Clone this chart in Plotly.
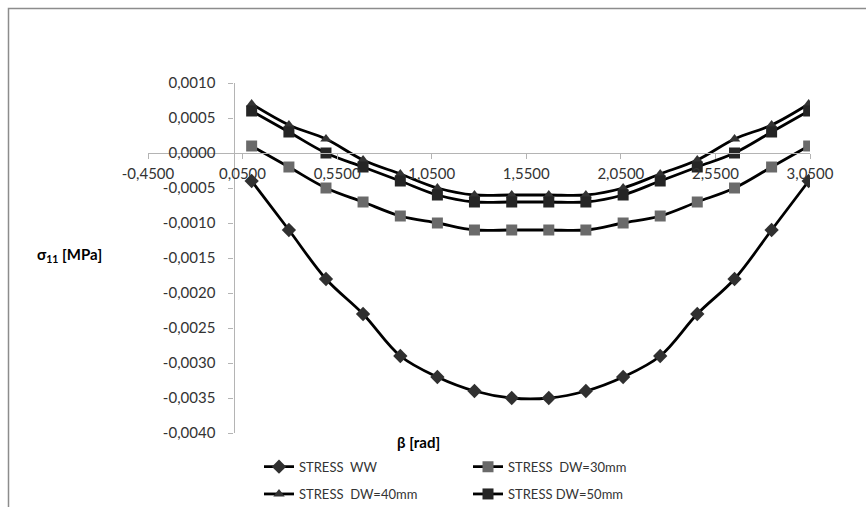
import plotly.graph_objects as go

# Angular positions beta [rad]
beta = [0.098, 0.295, 0.491, 0.687, 0.884, 1.080, 1.276, 1.473,
        1.669, 1.865, 2.062, 2.258, 2.454, 2.651, 2.847, 3.043]

# Stress sigma_11 [MPa] for each configuration
stress_ww = [-0.0004, -0.0011, -0.0018, -0.0023, -0.0029, -0.0032, -0.0034, -0.0035,
             -0.0035, -0.0034, -0.0032, -0.0029, -0.0023, -0.0018, -0.0011, -0.0004]
stress_dw30 = [0.0001, -0.0002, -0.0005, -0.0007, -0.0009, -0.0010, -0.0011, -0.0011,
               -0.0011, -0.0011, -0.0010, -0.0009, -0.0007, -0.0005, -0.0002, 0.0001]
stress_dw40 = [0.0007, 0.0004, 0.0002, -0.0001, -0.0003, -0.0005, -0.0006, -0.0006,
               -0.0006, -0.0006, -0.0005, -0.0003, -0.0001, 0.0002, 0.0004, 0.0007]
stress_dw50 = [0.0006, 0.0003, 0.0000, -0.0002, -0.0004, -0.0006, -0.0007, -0.0007,
               -0.0007, -0.0007, -0.0006, -0.0004, -0.0002, 0.0000, 0.0003, 0.0006]

series_names = ["STRESS\u00a0 WW", "STRESS\u00a0 DW=30mm", "STRESS\u00a0 DW=40mm", "STRESS DW=50mm"]

# Axis ticks
x_tickvals = [-0.45, 0.05, 0.55, 1.05, 1.55, 2.05, 2.55, 3.05]
x_ticktext = ["-0,4500", "0,0500", "0,5500", "1,0500", "1,5500", "2,0500", "2,5500", "3,0500"]
y_tickvals = [0.001, 0.0005, 0.0, -0.0005, -0.001, -0.0015, -0.002, -0.0025, -0.003, -0.0035, -0.004]
y_ticktext = ["0,0010", "0,0005", "0,0000", "-0,0005", "-0,0010", "-0,0015", "-0,0020",
              "-0,0025", "-0,0030", "-0,0035", "-0,0040"]

FONT = "Lato"
W, H = 866, 507
ML, MR, MT, MB = 148, 56, 83, 74
PW, PH = W - ML - MR, H - MT - MB


def px_to_paper_x(px):
    return (px - ML) / PW


def px_to_paper_y(py):
    return (H - MB - py) / PH


styles = [
    dict(symbol="diamond", color="#303030", size=11, legend="legend"),
    dict(symbol="square", color="#6a6a6a", size=11, legend="legend2"),
    dict(symbol="triangle-up", color="#333333", size=10, legend="legend3"),
    dict(symbol="square", color="#252525", size=11, legend="legend4"),
]
series = [stress_ww, stress_dw30, stress_dw40, stress_dw50]

fig = go.Figure()
for name, ys, st in zip(series_names, series, styles):
    fig.add_trace(go.Scatter(
        x=beta, y=ys, name=name, mode="lines+markers",
        line=dict(color="black", width=2.8, shape="spline", smoothing=1.0),
        marker=dict(symbol=st["symbol"], color=st["color"], size=st["size"],
                    line=dict(width=0)),
        legend=st["legend"],
    ))

axis_color = "#b4b4b4"
tick_font = dict(family=FONT, size=15, color="#333333")

legend_common = dict(font=dict(family=FONT, size=13, color="#333333"),
                     bgcolor="rgba(0,0,0,0)", xanchor="left", yanchor="middle",
                     itemwidth=30)

fig.update_layout(
    width=W, height=H,
    margin=dict(l=ML, r=MR, t=MT, b=MB, autoexpand=False),
    paper_bgcolor="white", plot_bgcolor="white",
    xaxis=dict(range=[-0.45, 3.05], anchor="free", position=px_to_paper_y(153),
               showgrid=False, zeroline=False, showline=True, linecolor=axis_color,
               linewidth=1.3, ticks="outside", ticklen=5, tickcolor=axis_color,
               tickvals=x_tickvals, ticktext=x_ticktext, tickfont=tick_font,
               ticklabelstandoff=2),
    yaxis=dict(range=[-0.004, 0.001], anchor="free", position=px_to_paper_x(233.5),
               showgrid=False, zeroline=False, showline=True, linecolor=axis_color,
               linewidth=1.3, ticks="outside", ticklen=5, tickcolor=axis_color,
               tickvals=y_tickvals, ticktext=y_ticktext, tickfont=tick_font,
               ticklabelstandoff=10),
    legend=dict(x=px_to_paper_x(259), y=px_to_paper_y(466.7), **legend_common),
    legend2=dict(x=px_to_paper_x(468), y=px_to_paper_y(466.7), **legend_common),
    legend3=dict(x=px_to_paper_x(259), y=px_to_paper_y(494), **legend_common),
    legend4=dict(x=px_to_paper_x(468), y=px_to_paper_y(494), **legend_common),
    showlegend=True,
)

# Axis titles
fig.add_annotation(text="<b>σ<sub>11</sub> [MPa]</b>", xref="paper", yref="paper",
                   x=px_to_paper_x(35), y=px_to_paper_y(255), xanchor="left", yanchor="middle",
                   showarrow=False, font=dict(family=FONT, size=15, color="black"))
fig.add_annotation(text="<b>β [rad]</b>", xref="paper", yref="paper",
                   x=px_to_paper_x(418), y=px_to_paper_y(442), xanchor="center", yanchor="middle",
                   showarrow=False, font=dict(family=FONT, size=15, color="black"))

# Chart-area border
fig.add_shape(type="rect", xref="paper", yref="paper",
              x0=px_to_paper_x(8.5), y0=px_to_paper_y(520), x1=px_to_paper_x(880), y1=px_to_paper_y(8.5),
              line=dict(color="#8c8c8c", width=1.5), fillcolor="rgba(0,0,0,0)", layer="below")

fig.write_html("out.html")
